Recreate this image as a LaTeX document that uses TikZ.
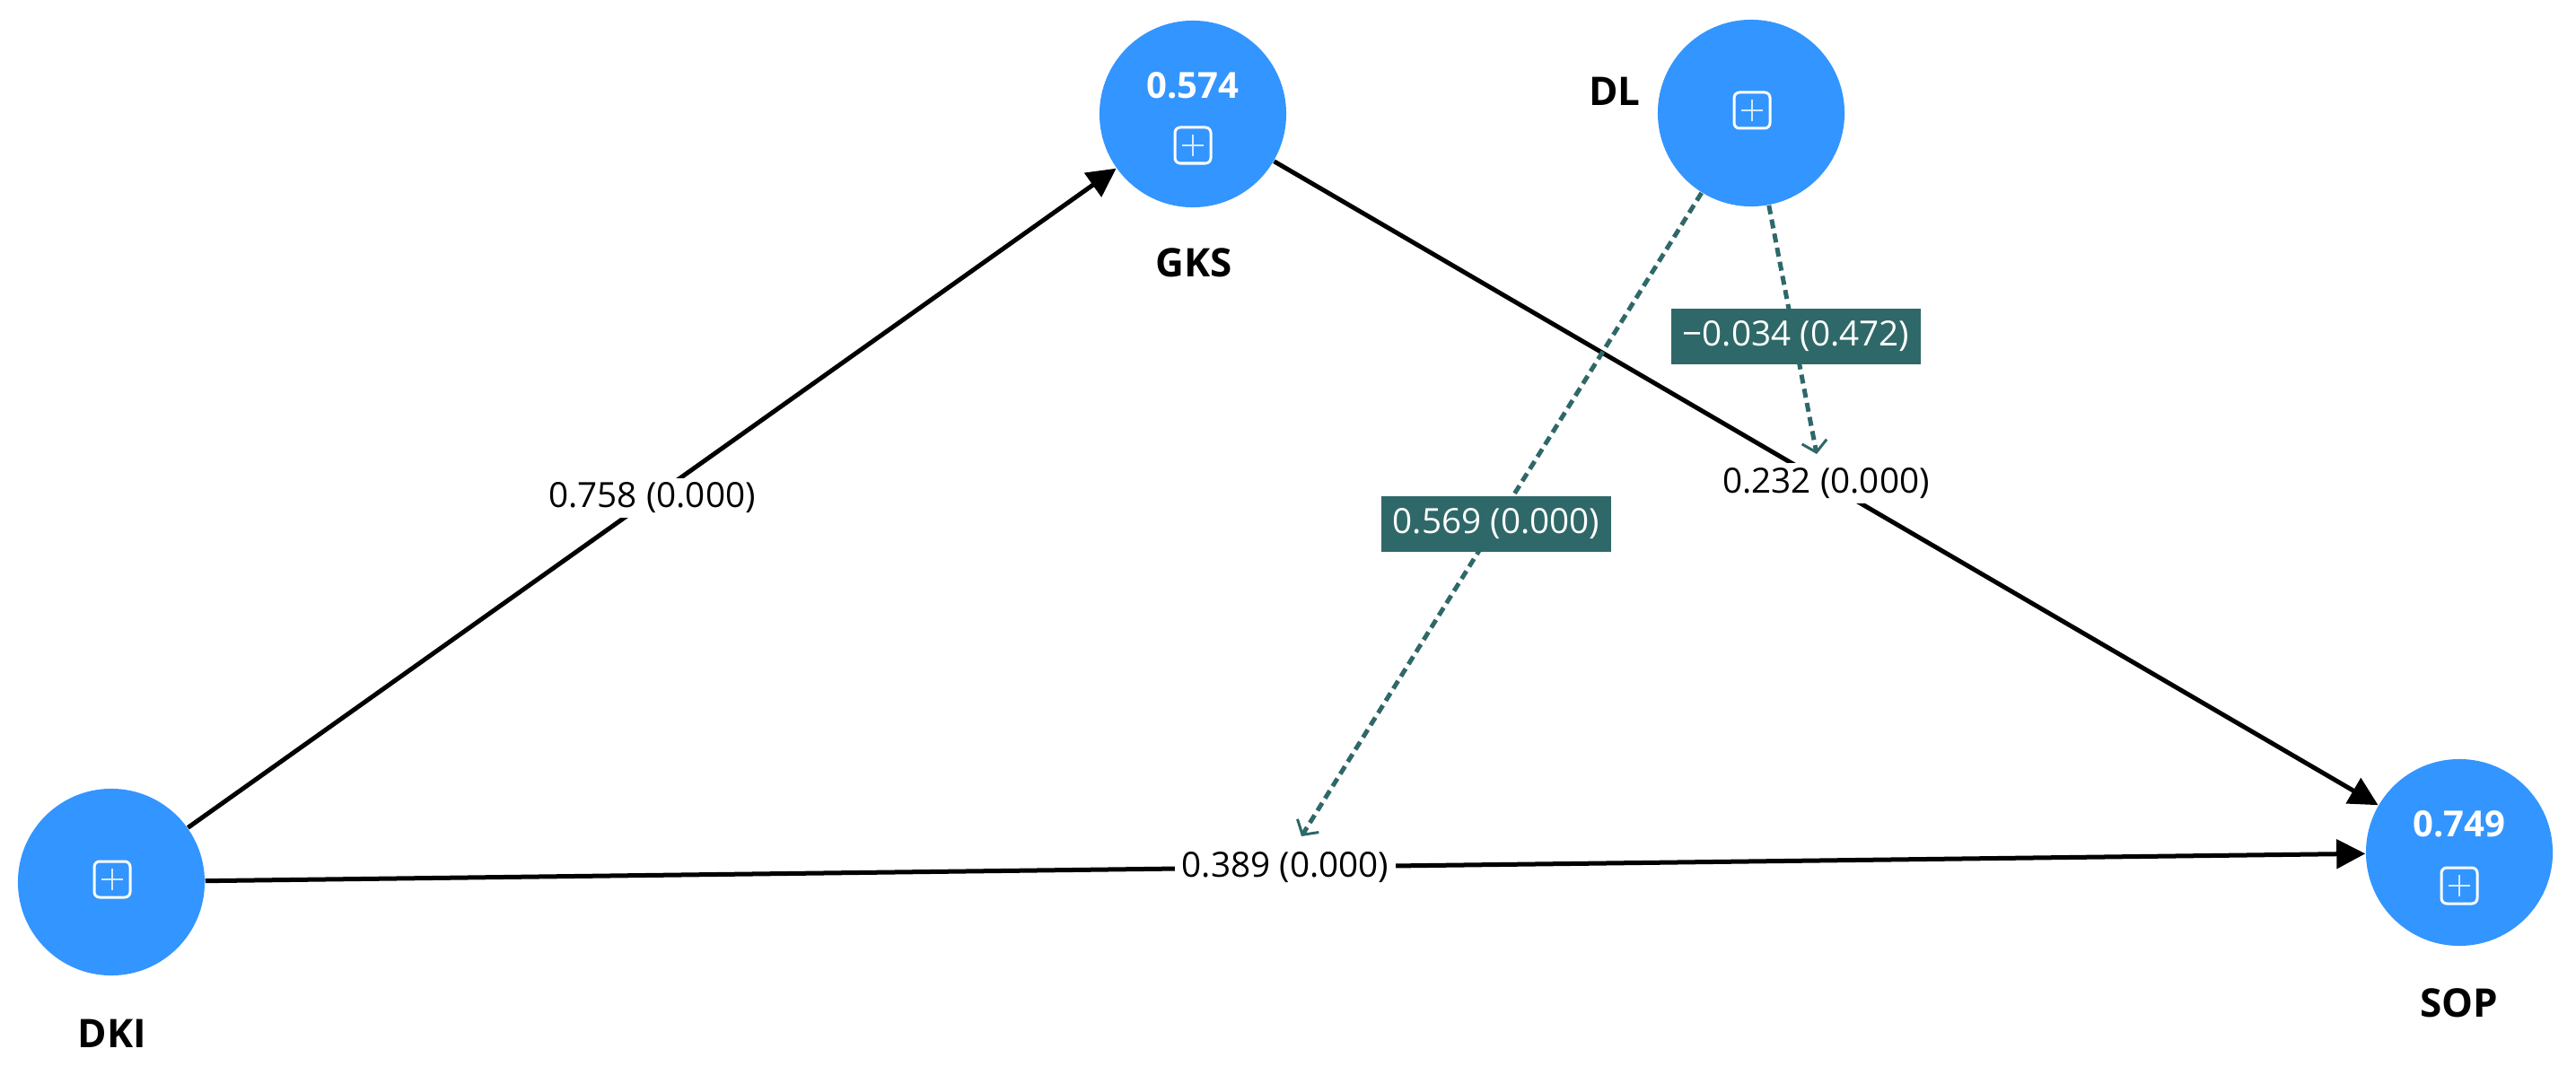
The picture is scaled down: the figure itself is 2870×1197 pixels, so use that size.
\documentclass[tikz,border=0pt]{standalone}
\usepackage{fontspec}
\setmainfont{Open Sans}
\usetikzlibrary{arrows.meta}
\definecolor{nodeblue}{RGB}{51,149,255}
\definecolor{modteal}{RGB}{47,104,104}
\tikzset{
  lv/.style={circle,fill=nodeblue,minimum size=2.08cm,inner sep=0pt},
  pathline/.style={draw=black,line width=0.05cm,-{Triangle[length=0.32cm,width=0.32cm]}},
  modline/.style={draw=modteal,line width=0.05cm,dash pattern=on 0.1cm off 0.06cm,
    -{Straight Barb[length=0.12cm,width=0.28cm,line width=0.03cm]}},
  plabel/.style={fill=white,inner xsep=0.08cm,inner ysep=0.05cm,font=\fontsize{11}{13}\selectfont},
  mlabel/.style={fill=modteal,text=white,minimum height=0.62cm,inner xsep=0.13cm,font=\fontsize{11}{13}\selectfont},
  lvname/.style={font=\bfseries\fontsize{12.5}{15}\selectfont},
  lvval/.style={text=white,font=\bfseries\fontsize{11.4}{13}\selectfont},
}
\newcommand\lvicon[1]{%
  \draw[white,line width=0.03cm,rounded corners=0.06cm,shift={(#1)}] (-20,-20) rectangle (20,20);
  \draw[white!80!nodeblue,line width=0.025cm,shift={(#1)}] (-12,0) -- (12,0) (0,-12) -- (0,12);}
\begin{document}
\begin{tikzpicture}[x=0.01cm,y=-0.01cm]
\useasboundingbox (0,0) rectangle (2870,1197);
% latent variables
\node[lv] (gks) at (1329,127) {};
\node[lv] (dl) at (1951,126) {};
\node[lv] (dki) at (124,983) {};
\node[lv] (sop) at (2740,950) {};
% values and icons
\node[lvval] (gksval) at (1329,95) {0.574};
\node[lvval] (sopval) at (2740,918) {0.749};
\coordinate (gksicon) at (1329,162);
\coordinate (sopicon) at (2740,987);
\coordinate (dlicon) at (1952,123);
\coordinate (dkiicon) at (125,980);
\lvicon{gksicon}
\lvicon{sopicon}
\lvicon{dlicon}
\lvicon{dkiicon}
% names
\node[lvname] (gksname) at (1330,293) {GKS};
\node[lvname] (dlname) at (1799,102) {DL};
\node[lvname] (dkiname) at (125,1152) {DKI};
\node[lvname] (sopname) at (2740,1118) {SOP};
% structural paths
\draw[pathline] (dki) -- (gks) node[plabel,pos=0.5] (l1) {0.758 (0.000)};
\draw[pathline] (gks) -- (sop) node[plabel,pos=0.5] (l2) {0.232 (0.000)};
\draw[pathline] (dki) -- (sop) node[plabel,pos=0.5] (l3) {0.389 (0.000)};
% moderating effects
\coordinate (m1) at (1450,932);
\coordinate (m2) at (2024,506);
\draw[modline] (dl) -- (m1);
\draw[modline] (dl) -- (m2);
\node[mlabel] (ml1) at (1667,584) {0.569 (0.000)};
\node[mlabel] (ml2) at (2001,375) {−0.034 (0.472)};
\end{tikzpicture}
\end{document}
